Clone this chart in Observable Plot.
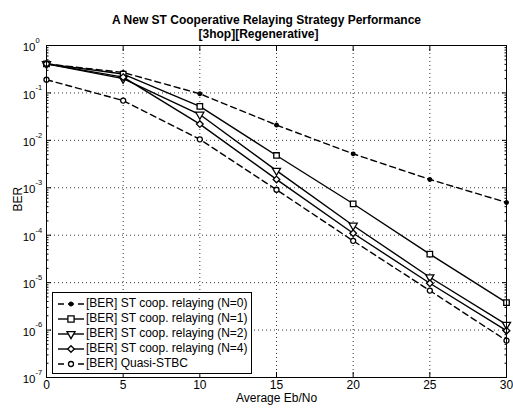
<!DOCTYPE html>
<html><head><meta charset="utf-8">
<script src="https://cdn.jsdelivr.net/npm/d3@7"></script>
<script src="https://cdn.jsdelivr.net/npm/@observablehq/plot@0.6"></script>
<style>
body{margin:0;background:#fff;font-family:"Liberation Sans",Arial,sans-serif}
#wrap{position:relative;width:513px;height:408px}
#legend{position:absolute;left:52px;top:292px;width:200px;height:82px;border:1px solid #000;background:#fff;box-sizing:border-box;font-size:12px;color:#000}
.row{position:absolute;left:0;height:15px;line-height:15px;white-space:nowrap}
.row svg{position:absolute;left:4px;top:1px}
.row span{position:absolute;left:33px;top:0}
</style></head><body><div id="wrap"><div id="legend"></div></div>
<script>
// ---- data ----
const ebno = [0, 5, 10, 15, 20, 25, 30];
const berN0 = [0.41, 0.27, 0.096, 0.021, 0.0052, 0.0015, 4.9e-4];
const berN1 = [0.41, 0.25, 0.052, 0.0048, 4.6e-4, 4.0e-5, 3.8e-6];
const berN2 = [0.41, 0.20, 0.035, 0.0023, 1.6e-4, 1.3e-5, 1.3e-6];
const berN4 = [0.41, 0.215, 0.022, 0.0015, 1.1e-4, 9.7e-6, 9.7e-7];
const berQ  = [0.19, 0.069, 0.0105, 9.1e-4, 7.6e-5, 6.8e-6, 6.0e-7];
const seriesNames = [
  "[BER] ST coop. relaying (N=0)",
  "[BER] ST coop. relaying (N=1)",
  "[BER] ST coop. relaying (N=2)",
  "[BER] ST coop. relaying (N=4)",
  "[BER] Quasi-STBC"
];
const xTicks = [0, 5, 10, 15, 20, 25, 30];
const yExps = [0, -1, -2, -3, -4, -5, -6, -7];
const titleLines = ["A New ST Cooperative Relaying Strategy Performance", "[3hop][Regenerative]"];
const xLabel = "Average Eb/No";
const yLabel = "BER";

// ---- styles ----
const styles = [
  {dash: "6,4", symbol: "circle", fill: "black", r: 1.8},
  {dash: null, symbol: "square", fill: "white", r: 3.1},
  {dash: null, symbol: "triangle", rotate: 180, fill: "white", r: 3.0},
  {dash: null, symbol: "diamond2", fill: "white", r: 3.0},
  {dash: "6,4", symbol: "circle", fill: "white", r: 2.5}
];
const allSeries = [berN0, berN1, berN2, berN4, berQ];
const data = allSeries.map((vals, i) => vals.map((v, j) => ({x: ebno[j], y: v, s: seriesNames[i]})));

const decades = yExps.map(e => Math.pow(10, e));
const minor = [];
for (let e = -7; e < 0; e++) for (let m = 2; m <= 9; m++) minor.push(m * Math.pow(10, e));

const font = "Liberation Sans, Arial, sans-serif";
const marks = [];
// grid
marks.push(Plot.ruleX(xTicks.slice(1, -1), {x: d => d, stroke: "#000", strokeWidth: 0.8, strokeDasharray: "1,3"}));
marks.push(Plot.ruleY(decades.slice(1, -1), {y: d => d, stroke: "#000", strokeWidth: 0.8, strokeDasharray: "1,3"}));
// inward ticks
const noLab = {tickFormat: () => "", label: null};
marks.push(Plot.axisX({anchor: "bottom", ticks: xTicks, tickSize: -5, ...noLab}));
marks.push(Plot.axisX({anchor: "top", ticks: xTicks, tickSize: -5, ...noLab}));
marks.push(Plot.axisY({anchor: "left", ticks: decades, tickSize: -5, ...noLab}));
marks.push(Plot.axisY({anchor: "right", ticks: decades, tickSize: -5, ...noLab}));
marks.push(Plot.axisY({anchor: "left", ticks: minor, tickSize: -2.5, ...noLab}));
marks.push(Plot.axisY({anchor: "right", ticks: minor, tickSize: -2.5, ...noLab}));
// series
data.forEach((d, i) => {
  const st = styles[i];
  marks.push(Plot.line(d, {x: "x", y: "y", stroke: "black", strokeWidth: 1.4, strokeDasharray: st.dash}));
  marks.push(Plot.dot(d, {x: "x", y: "y", symbol: () => st.symbol, r: st.r, rotate: st.rotate || 0, stroke: "black", strokeWidth: 1.3, fill: st.fill}));
});
marks.push(Plot.frame({stroke: "black", strokeWidth: 1}));
// tick labels
marks.push(Plot.text(xTicks, {x: d => d, frameAnchor: "bottom", dy: 11, text: d => String(d), fontSize: 12, fill: "black"}));
marks.push(Plot.text(decades, {y: d => d, frameAnchor: "left", dx: -11, dy: 2, textAnchor: "end", text: () => "10", fontSize: 11.5, fill: "black"}));
marks.push(Plot.text(yExps, {y: d => Math.pow(10, d), frameAnchor: "left", dx: -11, dy: -5, textAnchor: "start", text: d => String(d), fontSize: 7.5, fill: "black"}));
// axis labels
marks.push(Plot.text([xLabel], {frameAnchor: "bottom", dy: 24, text: d => d, fontSize: 12, fill: "black"}));
marks.push(Plot.text([yLabel], {frameAnchor: "left", dx: -28, rotate: -90, text: d => d, fontSize: 12, fill: "black"}));
// title
marks.push(Plot.text([titleLines[0]], {frameAnchor: "top", dx: -10, dy: -30, text: d => d, fontSize: 12, fontWeight: "bold", fill: "black"}));
marks.push(Plot.text([titleLines[1]], {frameAnchor: "top", dx: -18, dy: -16, text: d => d, fontSize: 12, fontWeight: "bold", fill: "black"}));

const chart = Plot.plot({
  width: 513, height: 408,
  marginLeft: 46, marginRight: 7, marginTop: 45, marginBottom: 31,
  style: {fontFamily: font, background: "white", color: "black"},
  x: {domain: [0, 30], axis: null},
  y: {type: "log", domain: [1e-7, 1], axis: null},
  marks
});
const wrap = document.getElementById("wrap");
wrap.insertBefore(chart, wrap.firstChild);

// legend
const legend = d3.select("#legend");
const symMap = {circle: d3.symbolCircle, square: d3.symbolSquare, triangle: d3.symbolTriangle, diamond2: d3.symbolDiamond2};
seriesNames.forEach((name, i) => {
  const st = styles[i];
  const row = legend.append("div").attr("class", "row").style("top", (3 + i * 15) + "px").style("width", "196px");
  const svg = row.append("svg").attr("width", 28).attr("height", 13);
  svg.append("line").attr("x1", 1).attr("x2", 27).attr("y1", 7).attr("y2", 7)
    .attr("stroke", "black").attr("stroke-width", 1.4).attr("stroke-dasharray", st.dash);
  const area = st.symbol === "square" ? (2 * st.r) * (2 * st.r) : Math.PI * st.r * st.r;
  svg.append("path").attr("d", d3.symbol(symMap[st.symbol], area)())
    .attr("transform", `translate(14,7) rotate(${st.rotate || 0})`)
    .attr("fill", st.fill).attr("stroke", "black").attr("stroke-width", 1.3);
  row.append("span").text(name);
});
</script></body></html>
